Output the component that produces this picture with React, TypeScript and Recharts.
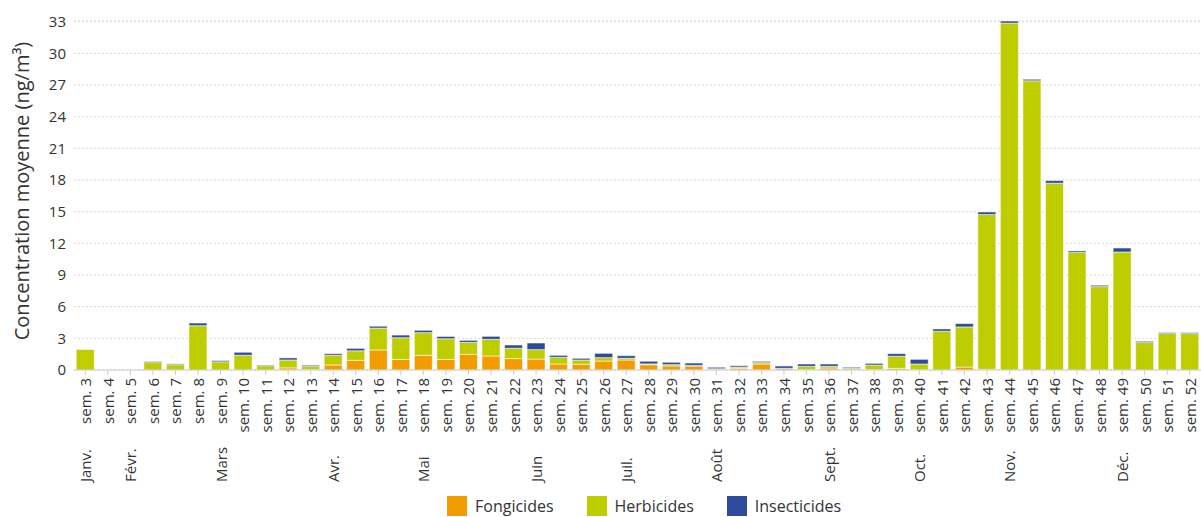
import React from 'react';
import { BarChart, Bar, XAxis, YAxis, CartesianGrid, Legend } from 'recharts';

const weeks = [
  'sem. 3', 'sem. 4', 'sem. 5', 'sem. 6', 'sem. 7', 'sem. 8', 'sem. 9', 'sem. 10', 'sem. 11', 'sem. 12',
  'sem. 13', 'sem. 14', 'sem. 15', 'sem. 16', 'sem. 17', 'sem. 18', 'sem. 19', 'sem. 20', 'sem. 21', 'sem. 22',
  'sem. 23', 'sem. 24', 'sem. 25', 'sem. 26', 'sem. 27', 'sem. 28', 'sem. 29', 'sem. 30', 'sem. 31', 'sem. 32',
  'sem. 33', 'sem. 34', 'sem. 35', 'sem. 36', 'sem. 37', 'sem. 38', 'sem. 39', 'sem. 40', 'sem. 41', 'sem. 42',
  'sem. 43', 'sem. 44', 'sem. 45', 'sem. 46', 'sem. 47', 'sem. 48', 'sem. 49', 'sem. 50', 'sem. 51', 'sem. 52',
];

const fongicides = [
  0, 0, 0, 0, 0, 0, 0, 0, 0, 0.2,
  0.03, 0.48, 0.92, 1.9, 1.0, 1.39, 1.0, 1.49, 1.33, 1.08,
  1.04, 0.57, 0.54, 0.85, 0.95, 0.5, 0.38, 0.38, 0.07, 0.16,
  0.57, 0.13, 0.02, 0.19, 0.02, 0.03, 0.16, 0.02, 0, 0.28,
  0.07, 0, 0, 0, 0, 0, 0, 0, 0, 0,
];

const herbicides = [
  1.95, 0, 0, 0.7, 0.5, 4.2, 0.78, 1.4, 0.4, 0.75,
  0.3, 0.92, 0.9, 2.07, 2.06, 2.15, 1.96, 1.13, 1.58, 0.98,
  0.89, 0.63, 0.41, 0.32, 0.16, 0.08, 0.13, 0.06, 0.05, 0.12,
  0.13, 0.03, 0.33, 0.16, 0.14, 0.44, 1.14, 0.55, 3.67, 3.8,
  14.66, 32.87, 27.4, 17.7, 11.13, 7.9, 11.18, 2.6, 3.45, 3.45,
];

const insecticides = [
  0.02, 0, 0, 0.1, 0.08, 0.25, 0.12, 0.28, 0.07, 0.2,
  0.12, 0.15, 0.23, 0.18, 0.25, 0.22, 0.22, 0.19, 0.28, 0.31,
  0.63, 0.19, 0.16, 0.41, 0.25, 0.25, 0.22, 0.22, 0.14, 0.13,
  0.12, 0.22, 0.22, 0.22, 0.1, 0.16, 0.25, 0.44, 0.22, 0.32,
  0.24, 0.2, 0.15, 0.25, 0.15, 0.13, 0.38, 0.12, 0.1, 0.1,
];

const monthWeeks = ['sem. 3', 'sem. 5', 'sem. 9', 'sem. 14', 'sem. 18', 'sem. 23', 'sem. 27', 'sem. 31', 'sem. 36', 'sem. 40', 'sem. 44', 'sem. 49'];
const monthLabels = ['Janv.', 'Févr.', 'Mars', 'Avr.', 'Mai', 'Juin', 'Juil.', 'Août', 'Sept.', 'Oct.', 'Nov.', 'Déc.'];

const yTicks = [0, 3, 6, 9, 12, 15, 18, 21, 24, 27, 30, 33];

const seriesNames = ['Fongicides', 'Herbicides', 'Insecticides'];
const seriesColors = ['#f39c00', '#bdcd00', '#2e4a9c'];

const data = weeks.map((w, i) => ({
  week: w,
  fongicides: fongicides[i],
  herbicides: herbicides[i],
  insecticides: insecticides[i],
}));

const FONT = "'Segoe UI', 'Open Sans', 'Noto Sans', sans-serif";
const TEXT = '#333333';

const WeekTick = (props: any) => {
  const { x, y, payload } = props;
  const mi = monthWeeks.indexOf(payload.value);
  return (
    <g transform={`translate(${x},${y})`}>
      <text
        transform="translate(0,1) rotate(-90)"
        textAnchor="end"
        dominantBaseline="central"
        fontSize={15}
        fill={TEXT}
        fontFamily={FONT}
      >
        {payload.value}
      </text>
      {mi >= 0 && (
        <text
          transform="translate(0,105) rotate(-90)"
          textAnchor="start"
          dominantBaseline="central"
          fontSize={15}
          fill={TEXT}
          fontFamily={FONT}
        >
          {monthLabels[mi]}
        </text>
      )}
    </g>
  );
};

const YTitle = (props: any) => {
  return (
    <text
      transform="translate(21,191) rotate(-90)"
      textAnchor="middle"
      dominantBaseline="central"
      fontSize={20}
      fill={TEXT}
      fontFamily={FONT}
    >
      Concentration moyenne (ng/m³)
    </text>
  );
};

const LegendContent = () => (
  <div style={{ display: 'flex', alignItems: 'center', fontFamily: FONT, fontSize: 16, color: TEXT, whiteSpace: 'nowrap' }}>
    {seriesNames.map((n, i) => (
      <div key={n} style={{ display: 'flex', alignItems: 'center', marginRight: 33 }}>
        <div style={{ width: 20, height: 20, background: seriesColors[i], marginRight: 8 }} />
        <span>{n}</span>
      </div>
    ))}
  </div>
);

export default function App() {
  return (
    <div style={{ position: 'absolute', left: 0, top: 0, width: 1201, height: 517, background: '#fff', fontFamily: FONT }}>
      <BarChart
        width={1201}
        height={517}
        data={data}
        margin={{ top: 21, right: 0, left: 20, bottom: 27 }}
        barCategoryGap="10%"
      >
        <CartesianGrid vertical={false} stroke="#d8d8d8" strokeDasharray="2 2" />
        <XAxis
          dataKey="week"
          interval={0}
          height={120}
          tick={<WeekTick />}
          tickSize={5}
          tickMargin={2}
          tickLine={{ stroke: '#cccccc' }}
          axisLine={{ stroke: '#cccccc' }}
        />
        <YAxis
          width={54}
          domain={[0, 33]}
          ticks={yTicks}
          interval={0}
          axisLine={false}
          tickLine={false}
          tick={{ fill: TEXT, fontSize: 15, fontFamily: FONT }}
          label={<YTitle />}
        />
        <Legend
          layout="horizontal"
          verticalAlign="middle"
          align="center"
          wrapperStyle={{ left: 447, top: 495, width: 'auto', height: 22 }}
          content={<LegendContent />}
        />
        <Bar dataKey="fongicides" name={seriesNames[0]} stackId="a" fill={seriesColors[0]} stroke="#ffffff" strokeOpacity={0.55} strokeWidth={1} isAnimationActive={false} />
        <Bar dataKey="herbicides" name={seriesNames[1]} stackId="a" fill={seriesColors[1]} stroke="#ffffff" strokeOpacity={0.55} strokeWidth={1} isAnimationActive={false} />
        <Bar dataKey="insecticides" name={seriesNames[2]} stackId="a" fill={seriesColors[2]} stroke="#ffffff" strokeOpacity={0.55} strokeWidth={1} isAnimationActive={false} />
      </BarChart>
    </div>
  );
}
